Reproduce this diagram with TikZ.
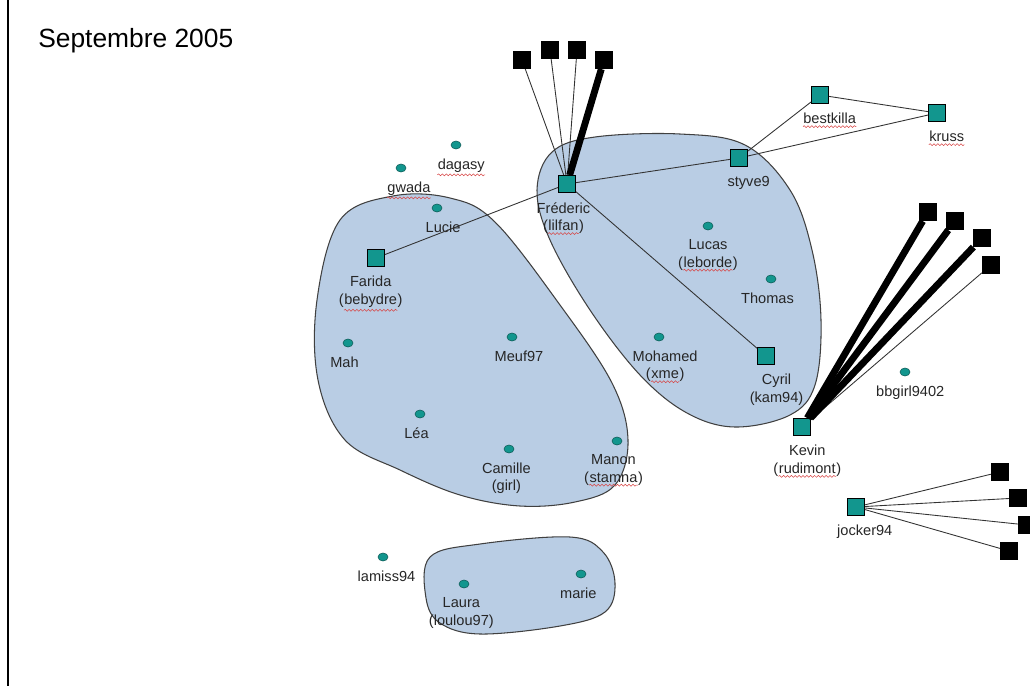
\documentclass[tikz,border=0pt]{standalone}
\usepackage{fontspec}
\setmainfont{Liberation Sans}
\usepackage{tikz}
\usetikzlibrary{positioning,shapes.geometric,decorations.pathmorphing}

\definecolor{nodeteal}{RGB}{18,150,142}
\definecolor{blobfill}{RGB}{185,205,228}
\definecolor{typored}{RGB}{215,70,70}
\newcommand\labelfont{\fontsize{8.3}{10.1}\selectfont}
\newcommand\typo[1]{\tikz[baseline=(w.base)]{\node[inner sep=0pt] (w) {#1};
  \draw[squiggle] ([yshift=-1.3pt]w.south west) -- ([yshift=-1.3pt]w.south east);}}

\tikzset{
  member/.style={ellipse,fill=nodeteal,draw=nodeteal!60!black,line width=0.3pt,minimum width=2mm,minimum height=1.6mm,inner sep=0pt},
  pseudo/.style={rectangle,fill=nodeteal,draw=black,line width=0.5pt,minimum size=3.4mm,inner sep=0pt},
  outsider/.style={rectangle,fill=black,minimum size=3.5mm,inner sep=0pt},
  who/.style={font=\labelfont,align=center,inner sep=0pt,text=black!85},
  clique/.style={fill=blobfill,draw=black!75,line width=0.6pt},
  link/.style={draw=black!80,line width=0.5pt},
  heavy/.style={draw=black,line width=3.9pt},
  squiggle/.style={draw=typored,line width=0.3pt,decorate,decoration={snake,amplitude=0.55pt,segment length=2.2pt}}
}

\begin{document}
\begin{tikzpicture}[x=0.2mm,y=-0.2mm,label distance=1.8mm]
	\useasboundingbox (0,0) rectangle (1030,686);
	\draw[line width=0.9pt] (8,0) -- (8,686);
	\node[font=\fontsize{15}{17}\selectfont,anchor=base west,inner sep=0pt] (title) at (38,47) {Septembre 2005};

	% groups
	\draw[clique] plot[smooth cycle,tension=0.6] coordinates {(340,220) (393,196) (450,198) (495,222) (560,305) (612,383) (628,440) (615,485) (575,502) (520,506) (460,495) (400,470) (345,440) (318,380) (317,300)};
	\draw[clique] plot[smooth cycle,tension=0.6] coordinates {(537,190) (552,152) (595,137) (680,134) (745,145) (790,190) (812,250) (821,320) (815,385) (790,415) (735,427) (687,413) (640,375) (590,310) (550,240)};
	\draw[clique] plot[smooth cycle,tension=0.6] coordinates {(430,557) (480,544) (570,537) (603,552) (615,583) (605,612) (560,626) (480,634) (440,623) (426,598)};

	% nicknames with an account
	\node[pseudo,label={[who,xshift=-2pt]below:Fréderic\\(\typo{lilfan})}] (fred) at (567,184) {};
	\node[pseudo,label={[who,xshift=5.5pt]below:styve9}] (styve) at (739,158) {};
	\node[pseudo,label={[who,xshift=5.5pt]below:\typo{bestkilla}}] (bestkilla) at (820,95) {};
	\node[pseudo,label={[who,xshift=5.5pt]below:\typo{kruss}}] (kruss) at (937,113) {};
	\node[pseudo,label={[who,xshift=-3pt]below:Farida\\(\typo{bebydre})}] (farida) at (376,258) {};
	\node[pseudo,label={[who,xshift=6pt]below:Cyril\\(kam94)}] (cyril) at (766,356) {};
	\node[pseudo,label={[who,xshift=3pt]below:Kevin\\(\typo{rudimont})}] (kevin) at (802,427) {};
	\node[pseudo,label={[who,xshift=5pt]below:jocker94}] (jocker) at (856,507) {};

	% pupils
	\node[member,label={[who,xshift=3pt]below:\typo{dagasy}}] (dagasy) at (456,145) {};
	\node[member,label={[who,xshift=4.5pt]below:\typo{gwada}}] (gwada) at (401,168) {};
	\node[member,label={[who,xshift=3.5pt]below:Lucie}] (lucie) at (437,208) {};
	\node[member,label={[who,xshift=-2pt]below:Mah}] (mah) at (348,343) {};
	\node[member,label={[who,xshift=4pt]below:Meuf97}] (meuf) at (512,337) {};
	\node[member,label={[who,xshift=-2pt]below:Léa}] (lea) at (420,414) {};
	\node[member,label={[who,xshift=-1.5pt]below:Camille\\(girl)}] (camille) at (509,449) {};
	\node[member,label={[who,xshift=-2pt]below:Manon\\(\typo{stamna})}] (manon) at (617,441) {};
	\node[member,label={[who]below:Lucas\\(\typo{leborde})}] (lucas) at (708,226) {};
	\node[member,label={[who,xshift=-2pt]below:Thomas}] (thomas) at (771,279) {};
	\node[member,label={[who,xshift=3.5pt]below:Mohamed\\(\typo{xme})}] (mohamed) at (659,337) {};
	\node[member,label={[who,xshift=3pt]below:bbgirl9402}] (bbgirl) at (905,372) {};
	\node[member,label={[who,xshift=2pt]below:lamiss94}] (lamiss) at (383,557) {};
	\node[member,label={[who,xshift=-1.5pt]below:Laura\\(loulou97)}] (laura) at (464,584) {};
	\node[member,label={[who,xshift=-1.5pt]below:marie}] (marie) at (581,574) {};

	% contacts outside the class
	\node[outsider] (f1) at (522,60) {};
	\node[outsider] (f2) at (550,50) {};
	\node[outsider] (f3) at (577,50) {};
	\node[outsider] (f4) at (604,60) {};
	\node[outsider] (k1) at (928,212) {};
	\node[outsider] (k2) at (955,221) {};
	\node[outsider] (k3) at (982,238) {};
	\node[outsider] (k4) at (991,265) {};
	\node[outsider] (j1) at (1000,472) {};
	\node[outsider] (j2) at (1018,498) {};
	\node[outsider] (j3) at (1027,525) {};
	\node[outsider] (j4) at (1009,551) {};

	\path[link]
		(fred) edge (f1)
		(fred) edge (f2)
		(fred) edge (f3)
		(fred) edge (styve)
		(fred) edge (farida)
		(fred) edge (cyril)
		(styve) edge (bestkilla)
		(styve) edge (kruss)
		(bestkilla) edge (kruss)
		(kevin) edge (k4);
	\path[heavy]
		(fred) edge (f4)
		(kevin) edge (k1)
		(kevin) edge (k2)
		(kevin) edge (k3);
	\foreach \j in {1,...,4}
		\path[link] (jocker) edge (j\j);
\end{tikzpicture}
\end{document}
